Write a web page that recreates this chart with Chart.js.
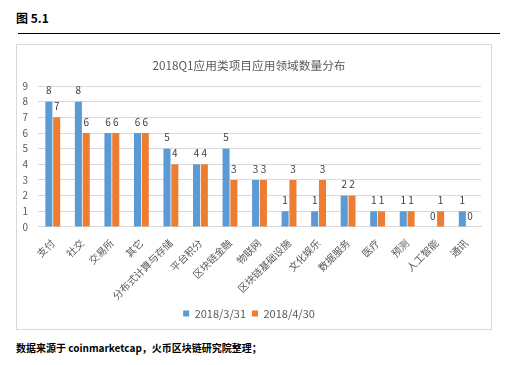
<!DOCTYPE html>
<html><head><meta charset="utf-8">
<script src="https://cdn.jsdelivr.net/npm/chart.js@4/dist/chart.umd.min.js"></script>
<style>
html,body{margin:0;padding:0;background:#fff;}
body{width:523px;height:365px;position:relative;overflow:hidden;font-family:"Noto Sans CJK SC",sans-serif;}
#hdr{position:absolute;left:16px;top:9px;font-size:12px;font-weight:bold;color:#000;}
#rule{position:absolute;left:18px;top:33px;width:482px;height:1px;background:#000;}
#box{position:absolute;left:16px;top:44px;width:474px;height:284px;border:1px solid #d9d9d9;}
#wrap{position:absolute;left:0;top:0;width:474px;height:284px;}
#foot{position:absolute;left:16px;top:340px;font-size:10px;font-weight:bold;color:#000;}
</style></head>
<body>
<div id="hdr">图 5.1</div>
<div id="rule"></div>
<div id="box"><div id="wrap"><canvas id="c"></canvas></div></div>
<div id="foot">数据来源于 coinmarketcap，火币区块链研究院整理；</div>
<script>
const categories = ["支付","社交","交易所","其它","分布式计算与存储","平台积分","区块链金融","物联网","区块链基础设施","文化娱乐","数据服务","医疗","预测","人工智能","通讯"];
const seriesMar = [8,8,6,6,5,4,5,3,1,1,2,1,1,0,1];
const seriesApr = [7,6,6,6,4,4,3,3,3,3,2,1,1,1,0];
const seriesNames = ["2018/3/31","2018/4/30"];
const yTicks = [0,1,2,3,4,5,6,7,8,9];

const FONT = "'Noto Sans CJK SC', sans-serif";
const valueLabels = {
  id:'valueLabels',
  afterDatasetsDraw(chart){
    const ctx = chart.ctx;
    ctx.save();
    ctx.font = "10px " + FONT;
    ctx.fillStyle = "#404040";
    ctx.textAlign = "center";
    ctx.textBaseline = "bottom";
    chart.data.datasets.forEach((ds,i)=>{
      const meta = chart.getDatasetMeta(i);
      meta.data.forEach((el,j)=>{
        ctx.fillText(String(ds.data[j]), el.x, el.y - 6);
      });
    });
    ctx.restore();
  }
};

new Chart(document.getElementById('c'),{
  type:'bar',
  data:{
    labels:categories,
    datasets:[
      {label:seriesNames[0],data:seriesMar,backgroundColor:'#5B9BD5',categoryPercentage:0.53,barPercentage:0.9},
      {label:seriesNames[1],data:seriesApr,backgroundColor:'#ED7D31',categoryPercentage:0.53,barPercentage:0.9}
    ]
  },
  options:{
    responsive:true,maintainAspectRatio:false,animation:false,
    layout:{padding:{left:0,right:10,top:6,bottom:0}},
    plugins:{
      title:{display:true,text:"2018Q1应用类项目应用领域数量分布",color:'#595959',font:{family:FONT,size:11.7,weight:'normal'},padding:{top:8,bottom:13}},
      legend:{position:'bottom',labels:{boxWidth:6,boxHeight:6,color:'#595959',font:{family:FONT,size:11},padding:6}},
      tooltip:{enabled:false}
    },
    scales:{
      x:{grid:{display:false,drawTicks:false},border:{color:'#d9d9d9'},
         afterFit(axis){axis.height-=10;},
         ticks:{color:'#595959',font:{family:FONT,size:10},maxRotation:45,minRotation:45,autoSkip:false,padding:10}},
      y:{min:0,max:9,afterBuildTicks(axis){axis.ticks=yTicks.map(v=>({value:v}));},
         afterFit(axis){axis.width=21;},
         grid:{color:'#d9d9d9',drawTicks:false},border:{display:false},
         ticks:{color:'#595959',font:{family:FONT,size:10},padding:10,stepSize:1,autoSkip:false}}
    }
  },
  plugins:[valueLabels]
});
</script>
</body></html>
